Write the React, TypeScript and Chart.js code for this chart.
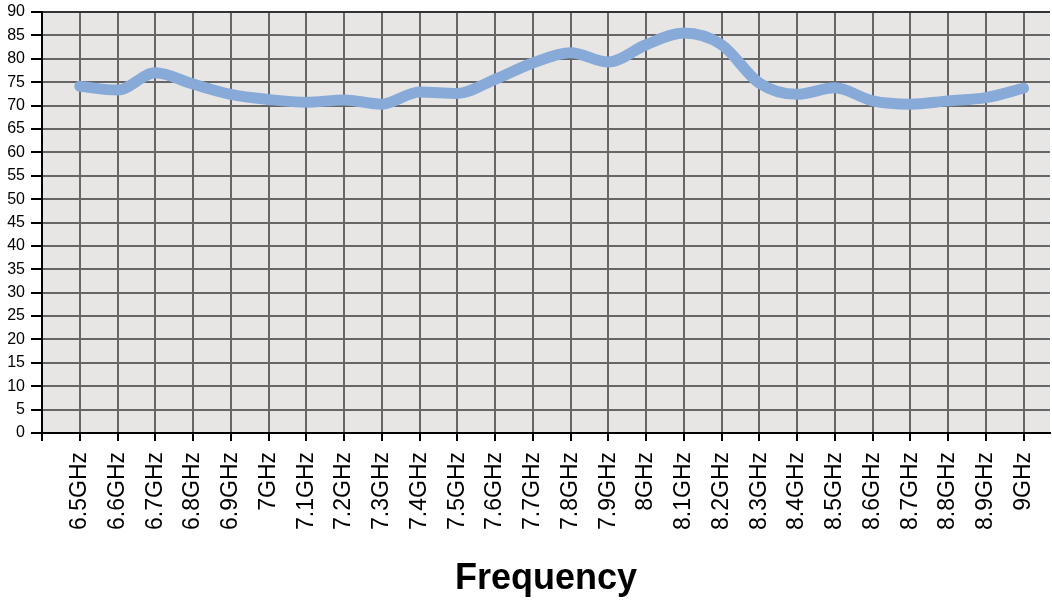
import React, { useEffect, useRef } from "react";
import { Chart, registerables } from "chart.js";

Chart.register(...registerables);

const categories = [
  "6.5GHz", "6.6GHz", "6.7GHz", "6.8GHz", "6.9GHz", "7GHz", "7.1GHz", "7.2GHz", "7.3GHz",
  "7.4GHz", "7.5GHz", "7.6GHz", "7.7GHz", "7.8GHz", "7.9GHz", "8GHz", "8.1GHz", "8.2GHz",
  "8.3GHz", "8.4GHz", "8.5GHz", "8.6GHz", "8.7GHz", "8.8GHz", "8.9GHz", "9GHz",
];

const values = [
  74.1, 73.3, 77.0, 74.6, 72.4, 71.3, 70.7, 71.2, 70.3, 72.9, 72.6, 75.6, 79.1,
  81.3, 79.3, 83.0, 85.5, 83.0, 74.8, 72.4, 73.8, 71.0, 70.3, 71.0, 71.7, 73.7,
];

const yTicks = [0, 5, 10, 15, 20, 25, 30, 35, 40, 45, 50, 55, 60, 65, 70, 75, 80, 85, 90];

const xTitle = "Frequency";

const plotBg = {
  id: "plotBg",
  beforeDraw(chart: any) {
    const { ctx, chartArea } = chart;
    ctx.save();
    ctx.fillStyle = "#e8e5e5";
    ctx.fillRect(chartArea.left, chartArea.top, chartArea.right - chartArea.left, chartArea.bottom - chartArea.top);
    ctx.restore();
  },
};

export default function App() {
  const ref = useRef<HTMLCanvasElement>(null);
  useEffect(() => {
    document.body.style.margin = "0";
    const chart = new Chart(ref.current!, {
      type: "line",
      data: {
        datasets: [
          {
            data: values.map((v, i) => ({ x: i, y: v })),
            borderColor: "#87aad9",
            borderWidth: 11,
            borderCapStyle: "round",
            borderJoinStyle: "round",
            pointRadius: 0,
            fill: false,
            cubicInterpolationMode: "monotone",
          },
        ],
      },
      options: {
        animation: false,
        responsive: true,
        maintainAspectRatio: false,
        layout: { padding: { top: 12, right: 2, left: 0, bottom: 0 } },
        plugins: { legend: { display: false }, tooltip: { enabled: false } },
        scales: {
          x: {
            type: "linear",
            min: -1,
            max: 25.7,
            afterBuildTicks(scale: any) {
              scale.ticks = [-1, ...categories.map((_, i) => i)].map((v) => ({ value: v }));
            },
            afterFit(scale: any) {
              scale.height = 168;
              scale.paddingLeft = 0;
              scale.paddingRight = 0;
              scale.paddingTop = 0;
              scale.paddingBottom = 0;
            },
            grid: { color: "#666", lineWidth: 2, tickColor: "#000", tickLength: 8 },
            border: { display: true, color: "#000", width: 2 },
            ticks: {
              autoSkip: false,
              minRotation: 90,
              maxRotation: 90,
              padding: 11,
              color: "#000",
              font: { family: "'Liberation Sans', Arial, sans-serif", size: 23 },
              callback: (v: any) => categories[v as number] ?? "",
            },
            title: {
              display: true,
              text: xTitle,
              color: "#000",
              padding: { top: 0, bottom: 0 },
              font: { family: "'Liberation Sans', Arial, sans-serif", size: 36, weight: "bold" },
            },
          },
          y: {
            type: "linear",
            min: 0,
            max: 90,
            afterBuildTicks(scale: any) {
              scale.ticks = yTicks.map((v) => ({ value: v }));
            },
            afterFit(scale: any) {
              scale.width = 42;
              scale.paddingLeft = 0;
              scale.paddingRight = 0;
              scale.paddingTop = 0;
              scale.paddingBottom = 0;
            },
            grid: {
              color: (c: any) => (c.tick && c.tick.value === 90 ? "#333" : "#666"),
              lineWidth: 2,
              tickColor: "#000",
              tickLength: 11,
            },
            border: { display: true, color: "#000", width: 2 },
            ticks: {
              padding: 6,
              color: "#000",
              font: { family: "'Liberation Sans', Arial, sans-serif", size: 16 },
            },
          },
        },
      },
      plugins: [plotBg],
    } as any);
    return () => chart.destroy();
  }, []);
  return (
    <div style={{ width: 1052, height: 601, position: "relative" }}>
      <canvas ref={ref} />
    </div>
  );
}
